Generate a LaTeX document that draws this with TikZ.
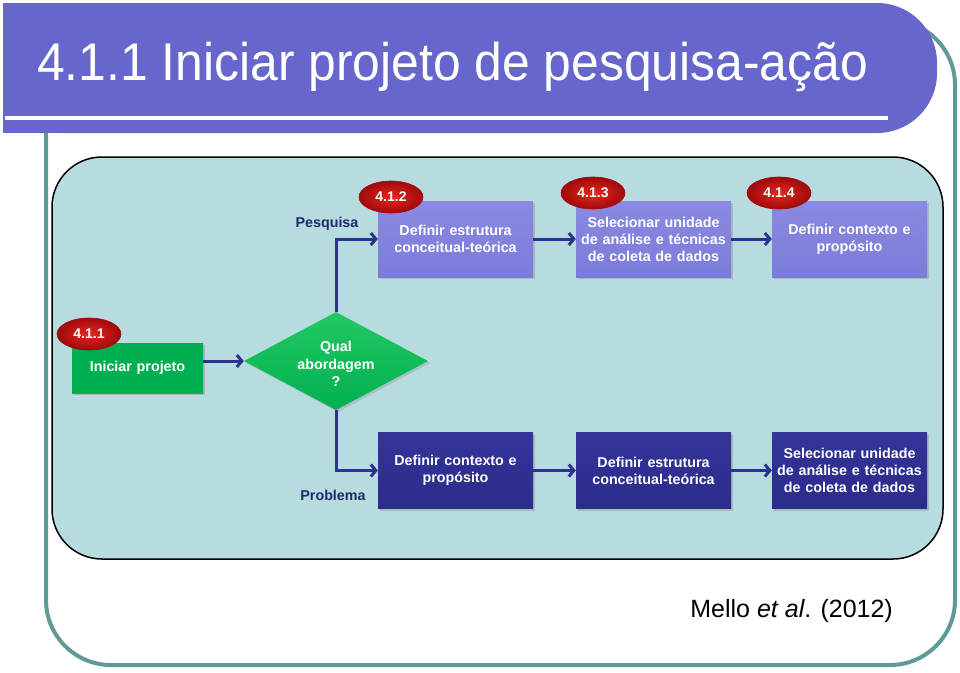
\documentclass[tikz,border=0pt]{standalone}
\usepackage{fontspec}
\setmainfont{Liberation Sans}
\usetikzlibrary{shapes.geometric,arrows.meta,shadows}
\definecolor{bandc}{HTML}{6666CC}
\definecolor{framec}{HTML}{5F9A96}
\definecolor{panelc}{HTML}{B7DCE0}
\definecolor{lavc}{HTML}{7B7BDA}
\definecolor{lavtop}{HTML}{8A8AE2}
\definecolor{navyc}{HTML}{2C2C8A}
\definecolor{navytop}{HTML}{34349A}
\definecolor{greenc}{HTML}{00B050}
\definecolor{greenl}{HTML}{22C862}
\definecolor{arrowc}{HTML}{2E3192}
\definecolor{labelc}{HTML}{1F2A6B}
\definecolor{redin}{HTML}{E8251C}
\definecolor{redout}{HTML}{A00A0C}
\tikzset{
  boxbase/.style={rectangle, minimum width=155pt, minimum height=76pt, text width=150pt,
    align=center, inner sep=0pt, text=white,
    font=\bfseries\fontsize{14.3}{17}\selectfont,
    drop shadow={opacity=0.35, shadow xshift=2pt, shadow yshift=-2pt}},
  lavbox/.style={boxbase, top color=lavtop, bottom color=lavc},
  navybox/.style={boxbase, top color=navytop, bottom color=navyc},
  badge/.style={ellipse, minimum width=64pt, minimum height=32pt, inner sep=0pt,
    inner color=redin, outer color=redout, draw=redout, line width=0.6pt,
    text=white, font=\bfseries\fontsize{14}{16}\selectfont},
  arr/.style={draw=arrowc, line width=3pt, -{Straight Barb[length=5pt,width=12pt]}},
  brlabel/.style={text=labelc, font=\bfseries\fontsize{14.3}{17}\selectfont, inner sep=0pt}
}
\begin{document}
\begin{tikzpicture}[x=1pt,y=-1pt]
\useasboundingbox (0,0) rectangle (960,672);
\fill[white] (0,0) rectangle (960,672);
% outer teal frame
\draw[framec, line width=4pt, rounded corners=65pt] (46,20) rectangle (955,665);
% title band
\fill[bandc, rounded corners=60pt] (3,3) rectangle (937,133);
\fill[bandc] (3,3) rectangle (100,133);
\draw[white, line width=4pt] (5,118) -- (888,118);
\node[anchor=base west, text=white, font=\fontsize{53}{60}\selectfont, xscale=0.94, inner sep=0pt] (title) at (37,80) {4.1.1 Iniciar projeto de pesquisa-ação};
% panel
\draw[black, line width=1.5pt, fill=panelc, rounded corners=50pt] (52,157) rectangle (943,559);
% top row
\node[lavbox] (b412) at (455.5,239) {Definir estrutura\\conceitual-teórica};
\node[lavbox] (b413) at (653.5,239) {Selecionar unidade\\de análise e técnicas\\de coleta de dados};
\node[lavbox] (b414) at (849.5,239) {Definir contexto e\\propósito};
% bottom row
\node[navybox] (p1) at (455.5,470.5) {Definir contexto e\\propósito};
\node[navybox] (p2) at (653.5,470.5) {Definir estrutura\\conceitual-teórica};
\node[navybox] (p3) at (849.5,470.5) {Selecionar unidade\\de análise e técnicas\\de coleta de dados};
% start box and decision
\node[boxbase, minimum width=131pt, minimum height=50pt, text width=128pt, top color=greenc, bottom color=greenc] (init) at (137.5,368) {Iniciar projeto};
\node[diamond, minimum width=184pt, minimum height=98pt, inner sep=0pt, top color=greenl, bottom color=greenc,
  drop shadow={opacity=0.3, shadow xshift=2pt, shadow yshift=-2pt}] (dia) at (336,361) {};
\node[align=center, text=white, font=\bfseries\fontsize{14.3}{17.5}\selectfont, inner sep=0pt] (diatext) at (336,364) {Qual\\abordagem\\?};
% badges
\node[badge] (bd411) at (89,334) {4.1.1};
\node[badge] (bd412) at (391,197) {4.1.2};
\node[badge] (bd413) at (593,193) {4.1.3};
\node[badge] (bd414) at (779,193) {4.1.4};
% connectors
\draw[arr] (init.east |- dia.west) -- (dia.west);
\draw[arr] (dia.north) |- (b412.west);
\draw[arr] (dia.south) |- (p1.west);
\draw[arr] (b412.east) -- (b413.west);
\draw[arr] (b413.east) -- (b414.west);
\draw[arr] (p1.east) -- (p2.west);
\draw[arr] (p2.east) -- (p3.west);
% branch labels
\node[brlabel] (lpes) at (327,224) {Pesquisa};
\node[brlabel] (lprob) at (333,495) {Problema};
% source
\node[anchor=base east, inner sep=0pt, font=\fontsize{25}{30}\selectfont] (src) at (893,617) {Mello \textit{et al}. (2012)};
\end{tikzpicture}
\end{document}
